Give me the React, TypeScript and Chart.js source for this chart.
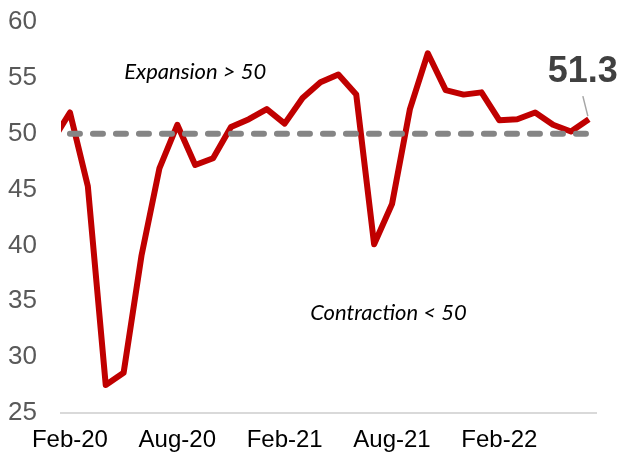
import React, { useEffect, useRef } from "react";
import { Chart, registerables } from "chart.js";

Chart.register(...registerables);

const months = [
  "Jan-20", "Feb-20", "Mar-20", "Apr-20", "May-20", "Jun-20", "Jul-20", "Aug-20", "Sep-20", "Oct-20", "Nov-20", "Dec-20",
  "Jan-21", "Feb-21", "Mar-21", "Apr-21", "May-21", "Jun-21", "Jul-21", "Aug-21", "Sep-21", "Oct-21", "Nov-21", "Dec-21",
  "Jan-22", "Feb-22", "Mar-22", "Apr-22", "May-22", "Jun-22", "Jul-22",
];
const pmi = [
  49.3, 51.9, 45.3, 27.5, 28.6, 39.1, 46.9, 50.8, 47.2, 47.8, 50.6, 51.3,
  52.2, 50.9, 53.2, 54.6, 55.3, 53.5, 40.1, 43.7, 52.2, 57.2, 53.9, 53.5,
  53.7, 51.2, 51.3, 51.9, 50.8, 50.2, 51.3,
];
const tickLabels = ["Feb-20", "Aug-20", "Feb-21", "Aug-21", "Feb-22"];
const threshold = 50;
const thresholdStart = "Feb-20";
const expansionText = "Expansion > 50";
const contractionText = "Contraction < 50";

const annotationPlugin = {
  id: "pmiAnnotations",
  afterDatasetsDraw(chart: any) {
    const { ctx, scales } = chart;
    const xs = scales.x;
    const ys = scales.y;
    ctx.save();
    ctx.fillStyle = "#000000";
    ctx.textAlign = "center";
    ctx.textBaseline = "middle";
    ctx.font = "italic 22px Lato, 'Liberation Sans', sans-serif";
    ctx.fillText(expansionText, xs.getPixelForValue(8), ys.getPixelForValue(55.5));
    ctx.fillText(contractionText, xs.getPixelForValue(18.8), ys.getPixelForValue(34));

    const lastIdx = pmi.length - 1;
    const px = xs.getPixelForValue(lastIdx);
    const py = ys.getPixelForValue(pmi[lastIdx]);
    ctx.font = "bold 36px 'Liberation Sans', Arial, sans-serif";
    ctx.fillStyle = "#404040";
    ctx.fillText(pmi[lastIdx].toFixed(1), px - 6, py - 47);
    ctx.strokeStyle = "#a6a6a6";
    ctx.lineWidth = 1.5;
    ctx.beginPath();
    ctx.moveTo(px - 6, py - 23);
    ctx.lineTo(px - 1, py - 3);
    ctx.stroke();
    ctx.restore();
  },
};

export default function App() {
  const ref = useRef<HTMLCanvasElement>(null);
  useEffect(() => {
    if (!ref.current) return;
    const startIdx = months.indexOf(thresholdStart);
    const chart = new Chart(ref.current, {
      type: "line",
      data: {
        datasets: [
          {
            label: "Threshold",
            data: months.slice(startIdx).map((_, i) => ({ x: startIdx + i, y: threshold })),
            borderColor: "#858585",
            borderWidth: 6,
            borderDash: [10, 13],
            borderCapStyle: "round",
            pointRadius: 0,
            fill: false,
          },
          {
            label: "PMI",
            data: pmi.map((v, i) => ({ x: i, y: v })),
            borderColor: "#c00000",
            borderWidth: 6,
            borderJoinStyle: "round",
            pointRadius: 0,
            tension: 0,
            fill: false,
          },
        ],
      },
      options: {
        responsive: false,
        animation: false,
        layout: { padding: { left: 0, right: 27, top: 22, bottom: 0 } },
        plugins: { legend: { display: false }, tooltip: { enabled: false } },
        scales: {
          x: {
            type: "linear",
            min: 0.5,
            max: 30.4,
            grid: { display: false, drawTicks: false },
            border: { display: true, color: "#d9d9d9", width: 2 },
            afterBuildTicks(scale: any) {
              scale.ticks = tickLabels.map((l) => ({ value: months.indexOf(l) }));
            },
            afterFit(scale: any) {
              scale.height = 42;
              scale.paddingLeft = 0;
              scale.paddingRight = 0;
            },
            ticks: {
              autoSkip: false,
              maxRotation: 0,
              padding: 13,
              color: "#000000",
              font: { family: "'Liberation Sans', Arial, sans-serif", size: 24 },
              callback: (v: any) => months[Math.round(Number(v))] ?? "",
            },
          },
          y: {
            min: 25,
            max: 60,
            grid: { display: false, drawTicks: false },
            border: { display: false },
            afterFit(scale: any) {
              scale.width = 61;
              scale.paddingTop = 0;
              scale.paddingBottom = 0;
            },
            ticks: {
              stepSize: 5,
              padding: 24,
              color: "#595959",
              font: { family: "'Liberation Sans', Arial, sans-serif", size: 26 },
            },
          },
        },
      },
      plugins: [annotationPlugin],
    } as any);
    return () => chart.destroy();
  }, []);
  return (
    <div style={{ position: "fixed", left: 0, top: 0, width: 623, height: 455, background: "#fff" }}>
      <canvas ref={ref} width={623} height={455} />
    </div>
  );
}
